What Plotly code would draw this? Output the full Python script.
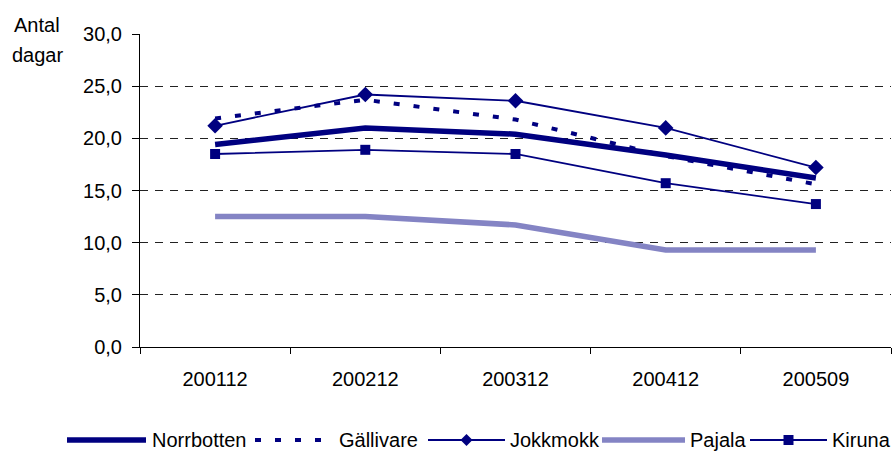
import plotly.graph_objects as go

categories = ["200112", "200212", "200312", "200412", "200509"]
norrbotten = [19.4, 21.0, 20.4, 18.4, 16.2]
gallivare = [21.9, 23.7, 21.8, 18.3, 15.6]
jokkmokk = [21.2, 24.2, 23.6, 21.0, 17.2]
pajala = [12.5, 12.5, 11.7, 9.3, 9.3]
kiruna = [18.5, 18.9, 18.5, 15.7, 13.7]

navy = "#000080"
lilac = "#8484C4"
FONT = "Liberation Sans, Arial, sans-serif"

W, H = 893, 451
L, R, T, B = 140, 2, 34, 451 - 347
PW, PH = W - L - R, H - T - B


def px(x):
    """window pixel x -> paper coordinate"""
    return (x - L) / PW


def py(y):
    """window pixel y -> paper coordinate"""
    return (H - B - y) / PH


fig = go.Figure()
fig.add_trace(go.Scatter(x=categories, y=norrbotten, name="Norrbotten", mode="lines",
                         line=dict(color=navy, width=5.5)))
fig.add_trace(go.Scatter(x=categories, y=gallivare, name="Gällivare", mode="lines",
                         line=dict(color=navy, width=4, dash="6px,14px")))
fig.add_trace(go.Scatter(x=categories, y=jokkmokk, name="Jokkmokk", mode="lines+markers",
                         line=dict(color=navy, width=1.8),
                         marker=dict(symbol="diamond", size=12, color=navy)))
fig.add_trace(go.Scatter(x=categories, y=pajala, name="Pajala", mode="lines",
                         line=dict(color=lilac, width=5.5)))
fig.add_trace(go.Scatter(x=categories, y=kiruna, name="Kiruna", mode="lines+markers",
                         line=dict(color=navy, width=1.8),
                         marker=dict(symbol="square", size=10, color=navy)))

# manual legend (line samples wider than plotly's default)
legend_items = [
    # name, line x0, x1, text x, color, width, dash, marker
    ("Norrbotten", 67, 146, 151, navy, 5.5, "solid", None),
    ("Gällivare", 255, 332, 338, navy, 4, "6px,14px", None),
    ("Jokkmokk", 428, 505, 509, navy, 1.8, "solid", "diamond"),
    ("Pajala", 602, 685, 689, lilac, 5.5, "solid", None),
    ("Kiruna", 750, 827, 831, navy, 1.8, "solid", "square"),
]
LEG_Y = 440
shapes = []
annotations = []
for name, x0, x1, tx, col, w, dash, mk in legend_items:
    shapes.append(dict(type="line", xref="paper", yref="paper",
                       x0=px(x0), x1=px(x1), y0=py(LEG_Y), y1=py(LEG_Y),
                       line=dict(color=col, width=w, dash=dash)))
    if mk == "diamond":
        shapes.append(dict(type="path", xref="paper", yref="paper",
                           xsizemode="pixel", ysizemode="pixel",
                           xanchor=px((x0 + x1) / 2), yanchor=py(LEG_Y),
                           path="M0,-6 L6,0 L0,6 L-6,0 Z",
                           fillcolor=col, line=dict(color=col, width=0)))
    elif mk == "square":
        shapes.append(dict(type="path", xref="paper", yref="paper",
                           xsizemode="pixel", ysizemode="pixel",
                           xanchor=px((x0 + x1) / 2), yanchor=py(LEG_Y),
                           path="M-5,-5 L5,-5 L5,5 L-5,5 Z",
                           fillcolor=col, line=dict(color=col, width=0)))
    annotations.append(dict(text=name, xref="paper", yref="paper",
                            x=px(tx), y=py(LEG_Y), xanchor="left", yanchor="middle",
                            showarrow=False, font=dict(size=20), borderpad=0))

annotations.append(dict(text="Antal", xref="paper", yref="paper", x=px(37), y=py(25),
                        xanchor="center", yanchor="middle", showarrow=False,
                        font=dict(size=20)))
annotations.append(dict(text="dagar", xref="paper", yref="paper", x=px(37), y=py(55),
                        xanchor="center", yanchor="middle", showarrow=False,
                        font=dict(size=20)))

fig.update_layout(
    template="none",
    width=W, height=H,
    margin=dict(l=L, r=R, t=T, b=B, autoexpand=False),
    paper_bgcolor="white", plot_bgcolor="white",
    font=dict(family=FONT, size=20, color="black"),
    separators=", ",
    showlegend=False,
    shapes=shapes,
    annotations=annotations,
)
fig.update_xaxes(type="category", range=[-0.5, 4.5], showline=True, linecolor="black",
                 linewidth=1, tickson="boundaries", ticks="outside", ticklen=6,
                 tickcolor="black", showgrid=False, zeroline=False, automargin=False,
                 tickfont=dict(size=20), ticklabelstandoff=14)
fig.update_yaxes(range=[0, 30], dtick=5, tickformat=".1f", showline=True,
                 linecolor="black", linewidth=1, ticks="outside", ticklen=7,
                 tickcolor="black", showgrid=True, gridcolor="#222222",
                 griddash="8px,7px", gridwidth=1, zeroline=False, automargin=False,
                 tickfont=dict(size=20), ticklabelstandoff=6)

# remove the browser's default 8px body margin so the figure fills the window
fig.write_html("out.html",
               config={"displayModeBar": False, "staticPlot": True},
               post_script="document.body.style.margin='0';document.body.style.overflow='hidden';")
